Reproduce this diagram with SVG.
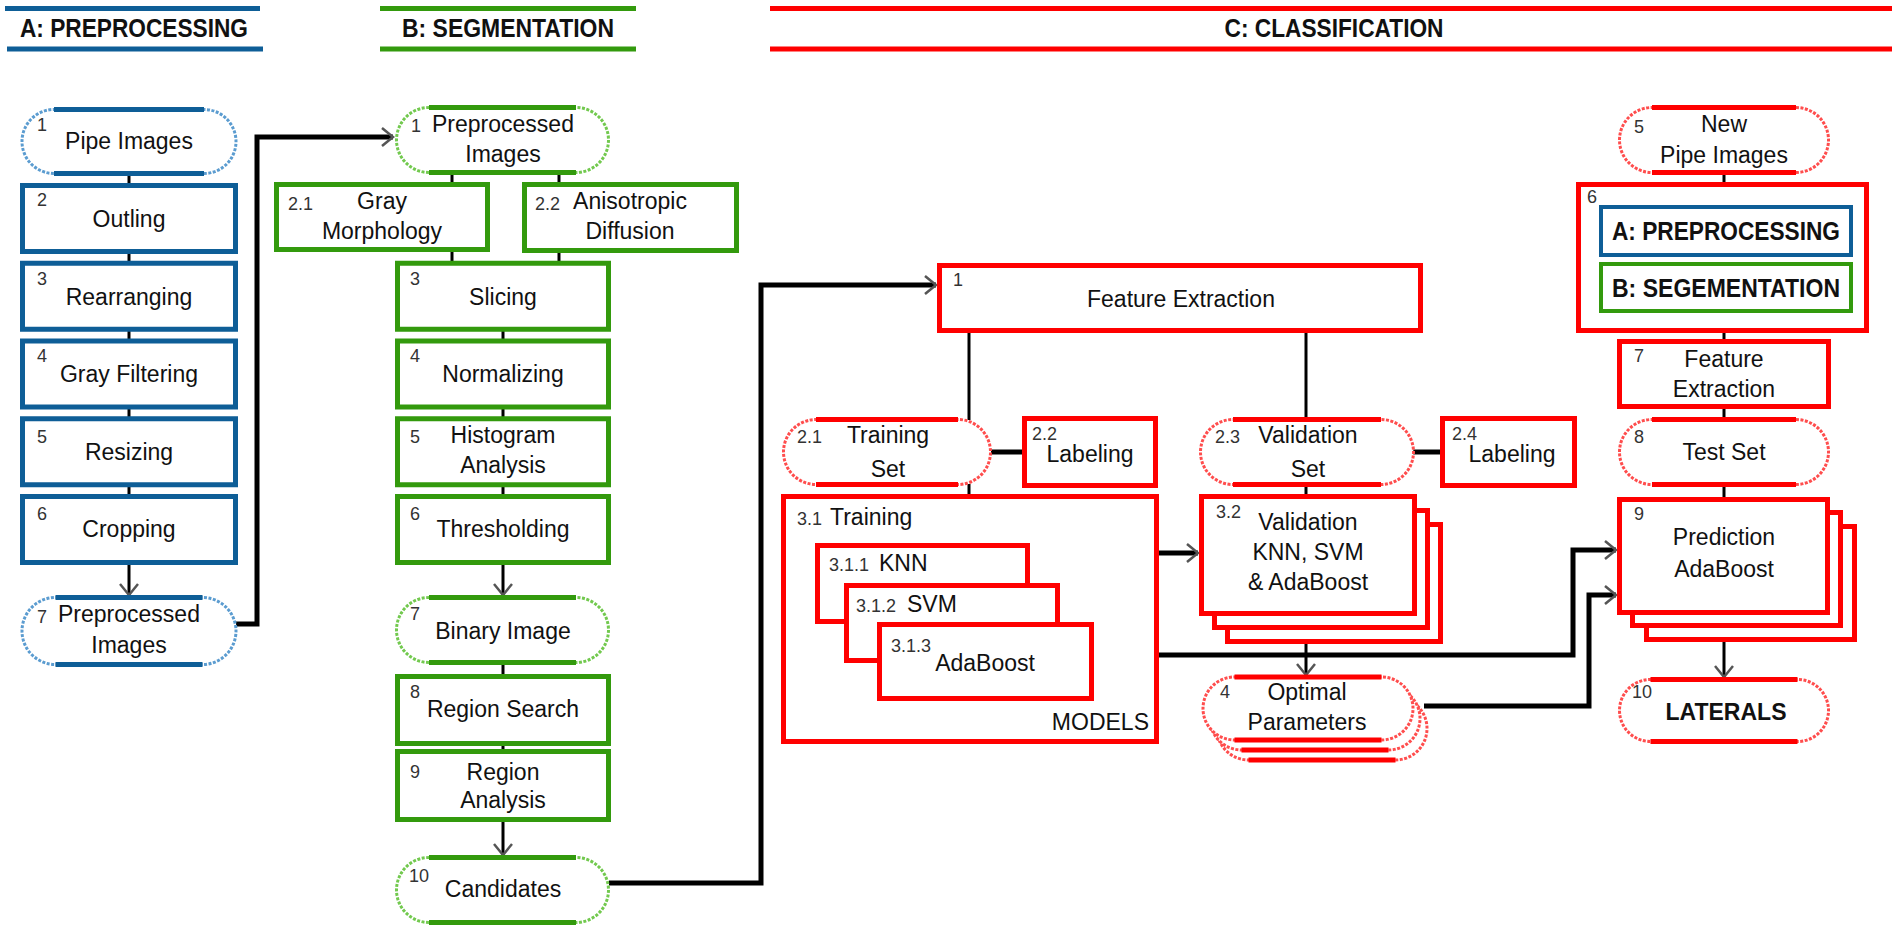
<svg xmlns="http://www.w3.org/2000/svg" width="1892" height="926" viewBox="0 0 1892 926">
<style>
.bx{fill:#fff;stroke-width:5}
.b{stroke:#0e5e97}.g{stroke:#339a0d}.r{stroke:#ff0000}
.sd{fill:#fff;stroke-width:3;stroke-dasharray:3 1.5}
.sdb{stroke:#5b9cd0}.sdg{stroke:#72c94e}.sdr{stroke:#ff4d4d}
.sl{fill:none;stroke-width:5}
.t{font-family:"Liberation Sans",Arial,Helvetica,sans-serif;font-size:23px;fill:#111;text-anchor:middle}
.n{font-family:"Liberation Sans",Arial,Helvetica,sans-serif;font-size:18px;fill:#333;text-anchor:start}
.h{font-family:"Liberation Sans",Arial,Helvetica,sans-serif;font-size:26px;font-weight:bold;fill:#111;text-anchor:middle}
.c{stroke:#000;stroke-width:3;fill:none}
.ck{stroke:#000;stroke-width:5;fill:none}
</style>
<defs>
<marker id="arr" markerUnits="userSpaceOnUse" markerWidth="16" markerHeight="22" refX="13" refY="11" orient="auto"><path d="M2,2 L13,11 L2,20" fill="none" stroke="#555" stroke-width="2.5"/></marker>
</defs>

<g id="headers">
<line x1="5" y1="8.5" x2="260" y2="8.5" class="sl b"/>
<line x1="7" y1="49" x2="263" y2="49" class="sl b"/>
<text x="134" y="37" class="h" textLength="228" lengthAdjust="spacingAndGlyphs">A: PREPROCESSING</text>
<line x1="380" y1="8.5" x2="636" y2="8.5" class="sl g"/>
<line x1="380" y1="49" x2="636" y2="49" class="sl g"/>
<text x="508" y="37" class="h" textLength="212" lengthAdjust="spacingAndGlyphs">B: SEGMENTATION</text>
<line x1="770" y1="8.5" x2="1892" y2="8.5" class="sl r"/>
<line x1="770" y1="49" x2="1892" y2="49" class="sl r"/>
<text x="1334" y="37" class="h" textLength="219" lengthAdjust="spacingAndGlyphs">C: CLASSIFICATION</text>
</g>

<g id="connectors">
<line x1="129" y1="174" x2="129" y2="186" class="c"/>
<line x1="129" y1="250" x2="129" y2="264" class="c"/>
<line x1="129" y1="328" x2="129" y2="341" class="c"/>
<line x1="129" y1="406" x2="129" y2="419" class="c"/>
<line x1="129" y1="484" x2="129" y2="497" class="c"/>
<line x1="129" y1="563" x2="129" y2="595" class="c" marker-end="url(#arr)"/>
<polyline points="236,624 257,624 257,137 393,137" class="ck" marker-end="url(#arr)"/>
<line x1="452" y1="172" x2="452" y2="185" class="c"/>
<line x1="559" y1="172" x2="559" y2="185" class="c"/>
<line x1="452" y1="249" x2="452" y2="263" class="c"/>
<line x1="559" y1="250" x2="559" y2="263" class="c"/>
<line x1="503" y1="328" x2="503" y2="341" class="c"/>
<line x1="503" y1="406" x2="503" y2="419" class="c"/>
<line x1="503" y1="484" x2="503" y2="497" class="c"/>
<line x1="503" y1="563" x2="503" y2="595" class="c" marker-end="url(#arr)"/>
<line x1="503" y1="662" x2="503" y2="677" class="c"/>
<line x1="503" y1="743" x2="503" y2="752" class="c"/>
<line x1="503" y1="819" x2="503" y2="855" class="c" marker-end="url(#arr)"/>
<polyline points="609,883 761,883 761,285 936,285" class="ck" marker-end="url(#arr)"/>
<line x1="969" y1="331" x2="969" y2="420" class="c"/>
<line x1="1306" y1="331" x2="1306" y2="420" class="c"/>
<line x1="991" y1="452" x2="1024" y2="452" class="ck"/>
<line x1="1413" y1="452" x2="1442" y2="452" class="ck"/>
<line x1="969" y1="484" x2="969" y2="497" class="c"/>
<line x1="1306" y1="484" x2="1306" y2="497" class="c"/>
<line x1="1159" y1="553" x2="1198" y2="553" class="ck" marker-end="url(#arr)"/>
<polyline points="1159,655 1573,655 1573,550 1616,550" class="ck" marker-end="url(#arr)"/>
<line x1="1306" y1="644" x2="1306" y2="675" class="c" marker-end="url(#arr)"/>
<polyline points="1424,706 1589,706 1589,595 1616,595" class="ck" marker-end="url(#arr)"/>
<line x1="1724" y1="172" x2="1724" y2="185" class="c"/>
<line x1="1724" y1="330" x2="1724" y2="342" class="c"/>
<line x1="1724" y1="406" x2="1724" y2="420" class="c"/>
<line x1="1724" y1="484" x2="1724" y2="500" class="c"/>
<line x1="1724" y1="642" x2="1724" y2="677" class="c" marker-end="url(#arr)"/>
</g>

<g id="a1">
<rect x="22" y="109.5" width="214" height="64" rx="32" class="sd sdb"/>
<path d="M54,109.5H204M54,173.5H204" class="sl b"/>
<text x="37" y="131" class="n">1</text><text x="129" y="149" class="t">Pipe Images</text>
</g>
<g id="a2"><rect x="22.5" y="185.5" width="213" height="66" class="bx b"/>
<text x="37" y="206" class="n">2</text><text x="129" y="227" class="t">Outling</text></g>
<g id="a3"><rect x="22.5" y="263.25" width="213" height="66" class="bx b"/>
<text x="37" y="285" class="n">3</text><text x="129" y="305" class="t">Rearranging</text></g>
<g id="a4"><rect x="22.5" y="341" width="213" height="66" class="bx b"/>
<text x="37" y="362" class="n">4</text><text x="129" y="382" class="t">Gray Filtering</text></g>
<g id="a5"><rect x="22.5" y="418.75" width="213" height="66" class="bx b"/>
<text x="37" y="443" class="n">5</text><text x="129" y="460" class="t">Resizing</text></g>
<g id="a6"><rect x="22.5" y="496.5" width="213" height="66" class="bx b"/>
<text x="37" y="520" class="n">6</text><text x="129" y="537" class="t">Cropping</text></g>
<g id="a7">
<rect x="22" y="597.5" width="214" height="67" rx="33.5" class="sd sdb"/>
<path d="M55.5,597.5H202.5M55.5,664.5H202.5" class="sl b"/>
<text x="37" y="623" class="n">7</text><text x="129" y="622" class="t">Preprocessed</text><text x="129" y="653" class="t">Images</text>
</g>

<g id="b1">
<rect x="396.5" y="107.5" width="212" height="65" rx="32.5" class="sd sdg"/>
<path d="M429,107.5H576M429,172.5H576" class="sl g"/>
<text x="411" y="132" class="n">1</text><text x="503" y="132" class="t">Preprocessed</text><text x="503" y="162" class="t">Images</text>
</g>
<g id="b21"><rect x="276.5" y="184.5" width="211" height="65" class="bx g"/>
<text x="288" y="210" class="n">2.1</text><text x="382" y="209" class="t">Gray</text><text x="382" y="239" class="t">Morphology</text></g>
<g id="b22"><rect x="524.5" y="184.5" width="212" height="66" class="bx g"/>
<text x="535" y="210" class="n">2.2</text><text x="630" y="209" class="t">Anisotropic</text><text x="630" y="239" class="t">Diffusion</text></g>
<g id="b3"><rect x="397.5" y="263.25" width="211" height="66" class="bx g"/>
<text x="410" y="285" class="n">3</text><text x="503" y="305" class="t">Slicing</text></g>
<g id="b4"><rect x="397.5" y="341" width="211" height="66" class="bx g"/>
<text x="410" y="362" class="n">4</text><text x="503" y="382" class="t">Normalizing</text></g>
<g id="b5"><rect x="397.5" y="418.75" width="211" height="66" class="bx g"/>
<text x="410" y="443" class="n">5</text><text x="503" y="443" class="t">Histogram</text><text x="503" y="473" class="t">Analysis</text></g>
<g id="b6"><rect x="397.5" y="496.5" width="211" height="66" class="bx g"/>
<text x="410" y="520" class="n">6</text><text x="503" y="537" class="t">Thresholding</text></g>
<g id="b7">
<rect x="396.5" y="597.5" width="212" height="65" rx="32.5" class="sd sdg"/>
<path d="M429,597.5H576M429,662.5H576" class="sl g"/>
<text x="410" y="620" class="n">7</text><text x="503" y="639" class="t">Binary Image</text>
</g>
<g id="b8"><rect x="397.5" y="676.5" width="211" height="67" class="bx g"/>
<text x="410" y="698" class="n">8</text><text x="503" y="717" class="t">Region Search</text></g>
<g id="b9"><rect x="397.5" y="751.5" width="211" height="68" class="bx g"/>
<text x="410" y="778" class="n">9</text><text x="503" y="780" class="t">Region</text><text x="503" y="808" class="t">Analysis</text></g>
<g id="b10">
<rect x="396.5" y="857.5" width="212" height="65" rx="32.5" class="sd sdg"/>
<path d="M429,857.5H576M429,922.5H576" class="sl g"/>
<text x="409" y="882" class="n">10</text><text x="503" y="897" class="t">Candidates</text>
</g>

<g id="c1"><rect x="939.5" y="265.5" width="481" height="65" class="bx r"/>
<text x="953" y="286" class="n">1</text><text x="1181" y="307" class="t">Feature Extraction</text></g>
<g id="c21">
<rect x="783.5" y="419.5" width="207" height="65" rx="32.5" class="sd sdr"/>
<path d="M816,419.5H958M816,484.5H958" class="sl r"/>
<text x="797" y="443" class="n">2.1</text><text x="888" y="443" class="t">Training</text><text x="888" y="477" class="t">Set</text>
</g>
<g id="c22"><rect x="1024.5" y="418.5" width="131" height="67" class="bx r"/>
<text x="1032" y="440" class="n">2.2</text><text x="1090" y="462" class="t">Labeling</text></g>
<g id="c23">
<rect x="1200.5" y="419.5" width="213" height="65" rx="32.5" class="sd sdr"/>
<path d="M1233,419.5H1381M1233,484.5H1381" class="sl r"/>
<text x="1215" y="443" class="n">2.3</text><text x="1308" y="443" class="t">Validation</text><text x="1308" y="477" class="t">Set</text>
</g>
<g id="c24"><rect x="1442.5" y="418.5" width="132" height="67" class="bx r"/>
<text x="1452" y="440" class="n">2.4</text><text x="1512" y="462" class="t">Labeling</text></g>
<g id="c31">
<rect x="783.5" y="496.5" width="373" height="245" class="bx r"/>
<text x="797" y="525" class="n">3.1</text><text x="830" y="525" class="t" style="text-anchor:start">Training</text>
<text x="1149" y="730" class="t" style="text-anchor:end">MODELS</text>
</g>
<g id="c311"><rect x="817.5" y="545.5" width="210" height="76" class="bx r"/>
<text x="829" y="571" class="n">3.1.1</text><text x="879" y="571" class="t" style="text-anchor:start">KNN</text></g>
<g id="c312"><rect x="846.5" y="585.5" width="211" height="75" class="bx r"/>
<text x="856" y="612" class="n">3.1.2</text><text x="907" y="612" class="t" style="text-anchor:start">SVM</text></g>
<g id="c313"><rect x="879.5" y="624.5" width="212" height="74" class="bx r"/>
<text x="891" y="652" class="n">3.1.3</text><text x="985" y="671" class="t">AdaBoost</text></g>
<g id="c32">
<rect x="1227.5" y="524.5" width="213" height="117" class="bx r"/>
<rect x="1214.5" y="510.5" width="213" height="117" class="bx r"/>
<rect x="1201.5" y="496.5" width="213" height="117" class="bx r"/>
<text x="1216" y="518" class="n">3.2</text><text x="1308" y="530" class="t">Validation</text><text x="1308" y="560" class="t">KNN, SVM</text><text x="1308" y="590" class="t">&amp; AdaBoost</text>
</g>
<g id="c4">
<rect x="1217" y="697" width="210" height="63" rx="31.5" class="sd sdr"/>
<path d="M1248.5,760H1395.5" class="sl r"/>
<rect x="1210" y="687" width="210" height="63" rx="31.5" class="sd sdr"/>
<path d="M1241.5,750H1388.5" class="sl r"/>
<rect x="1203" y="677" width="210" height="63" rx="31.5" class="sd sdr"/>
<path d="M1234.5,677H1381.5M1234.5,740H1381.5" class="sl r"/>
<text x="1220" y="698" class="n">4</text><text x="1307" y="700" class="t">Optimal</text><text x="1307" y="730" class="t">Parameters</text>
</g>
<g id="c5">
<rect x="1619.5" y="107.5" width="209" height="65" rx="32.5" class="sd sdr"/>
<path d="M1652,107.5H1796M1652,172.5H1796" class="sl r"/>
<text x="1634" y="133" class="n">5</text><text x="1724" y="132" class="t">New</text><text x="1724" y="163" class="t">Pipe Images</text>
</g>
<g id="c6">
<rect x="1578.5" y="184.5" width="288" height="146" class="bx r"/>
<text x="1587" y="203" class="n">6</text>
<rect x="1601" y="207" width="250" height="48" class="bx b" style="stroke-width:4"/>
<text x="1726" y="240" class="h" textLength="228" lengthAdjust="spacingAndGlyphs">A: PREPROCESSING</text>
<rect x="1601" y="264" width="250" height="47" class="bx g" style="stroke-width:4"/>
<text x="1726" y="297" class="h" textLength="228" lengthAdjust="spacingAndGlyphs">B: SEGEMENTATION</text>
</g>
<g id="c7"><rect x="1619.5" y="341.5" width="209" height="65" class="bx r"/>
<text x="1634" y="362" class="n">7</text><text x="1724" y="367" class="t">Feature</text><text x="1724" y="397" class="t">Extraction</text></g>
<g id="c8">
<rect x="1619.5" y="419.5" width="209" height="65" rx="32.5" class="sd sdr"/>
<path d="M1652,419.5H1796M1652,484.5H1796" class="sl r"/>
<text x="1634" y="443" class="n">8</text><text x="1724" y="460" class="t">Test Set</text>
</g>
<g id="c9">
<rect x="1646.5" y="526.5" width="208" height="113" class="bx r"/>
<rect x="1632.5" y="512.5" width="208" height="113" class="bx r"/>
<rect x="1619.5" y="499.5" width="208" height="113" class="bx r"/>
<text x="1634" y="520" class="n">9</text><text x="1724" y="545" class="t">Prediction</text><text x="1724" y="577" class="t">AdaBoost</text>
</g>
<g id="c10">
<rect x="1619.5" y="679.5" width="209" height="62" rx="31" class="sd sdr"/>
<path d="M1650.5,679.5H1797.5M1650.5,741.5H1797.5" class="sl r"/>
<text x="1632" y="698" class="n">10</text><text x="1726" y="720" class="t" style="font-weight:bold">LATERALS</text>
</g>
</svg>
